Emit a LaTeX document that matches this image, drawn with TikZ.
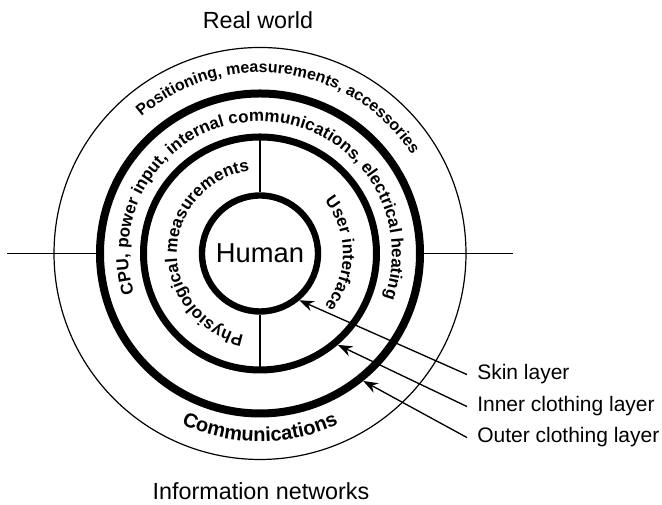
\documentclass[tikz,border=0pt]{standalone}
\usepackage{fontspec}
\setmainfont{Liberation Sans}
\usetikzlibrary{arrows.meta,positioning,decorations.text}
\newcommand{\arcfont}{\fontsize{12.75pt}{15pt}\selectfont\bfseries}
\newcommand{\outerarcfont}{\fontsize{12pt}{14pt}\selectfont\bfseries}
\newcommand{\commfont}{\fontsize{15pt}{17pt}\selectfont\bfseries}
\tikzset{
  ring/.style={draw,line width=#1},
  thinring/.style={draw,line width=.9pt},
  axisline/.style={line width=1.1pt},
  divider/.style={line width=1pt},
  pointer/.style={line width=1pt,-{Stealth[length=11pt,width=8pt]}},
  layerlabel/.style={anchor=base west,inner xsep=7.5pt,inner ysep=0pt,font=\fontsize{15.75pt}{18pt}\selectfont},
  worldlabel/.style={inner sep=0pt,font=\fontsize{17.5pt}{20pt}\selectfont},
  humannode/.style={circle,draw,line width=4.8pt,minimum size=87pt,inner sep=0pt,font=\fontsize{20.5pt}{24pt}\selectfont},
  arctext/.style={decorate,decoration={text along path,text align=center,text={#1}}}
}

\begin{document}
\begin{tikzpicture}[x=.75pt,y=.75pt]
\useasboundingbox (0,0) rectangle (662,505);
\coordinate (c) at (260,251.5);
% rings
\draw[thinring] (c) circle[radius=206];
\draw[ring=6pt] (c) circle[radius=160];
\draw[ring=5.25pt] (c) circle[radius=116.5];
\node[humannode] (human) at (c) {Human};
% dividers and axis
\draw[divider] (human.north) -- ([shift={(90:116.5)}]c);
\draw[divider] (human.south) -- ([shift={(270:116.5)}]c);
\coordinate (westend) at (7,251.5);
\coordinate (eastend) at (513,251.5);
\draw[axisline] (westend) -- ([shift={(180:160)}]c);
\draw[axisline] (eastend) -- ([shift={(0:160)}]c);
% texts on the rings
\path[arctext={|\outerarcfont|Positioning, measurements, accessories}]
  ([shift={(172:181)}]c) arc[start angle=172,end angle=-8,radius=181];
\path[arctext={|\arcfont|CPU, power input, internal communications, electrical heating}]
  ([shift={(214:132)}]c) arc[start angle=214,end angle=-36,radius=132];
\path[arctext={|\arcfont|Physiological measurements}]
  ([shift={(268:83)}]c) arc[start angle=268,end angle=88,radius=83];
\path[arctext={|\arcfont|User interface}]
  ([shift={(80:83)}]c) arc[start angle=80,end angle=-80,radius=83];
\path[arctext={|\commfont|Communications}]
  ([shift={(200:188)}]c) arc[start angle=200,end angle=340,radius=188];
% outside labels
\node[worldlabel] (real) at (258,485) {Real world};
\node[worldlabel] (info) at (261,14) {Information networks};
\node[layerlabel] (skin) at (467,125) {Skin layer};
\node[layerlabel] (inner) at (467,93) {Inner clothing layer};
\node[layerlabel] (outer) at (467,62) {Outer clothing layer};
\coordinate (skintip) at ([shift={(-50:61)}]c);
\coordinate (innertip) at ([shift={(-49.6:120)}]c);
\coordinate (outertip) at ([shift={(-51:164)}]c);
\draw[pointer] (skin.west) -- (skintip);
\draw[pointer] (inner.west) -- (innertip);
\draw[pointer] (outer.west) -- (outertip);
\end{tikzpicture}
\end{document}
